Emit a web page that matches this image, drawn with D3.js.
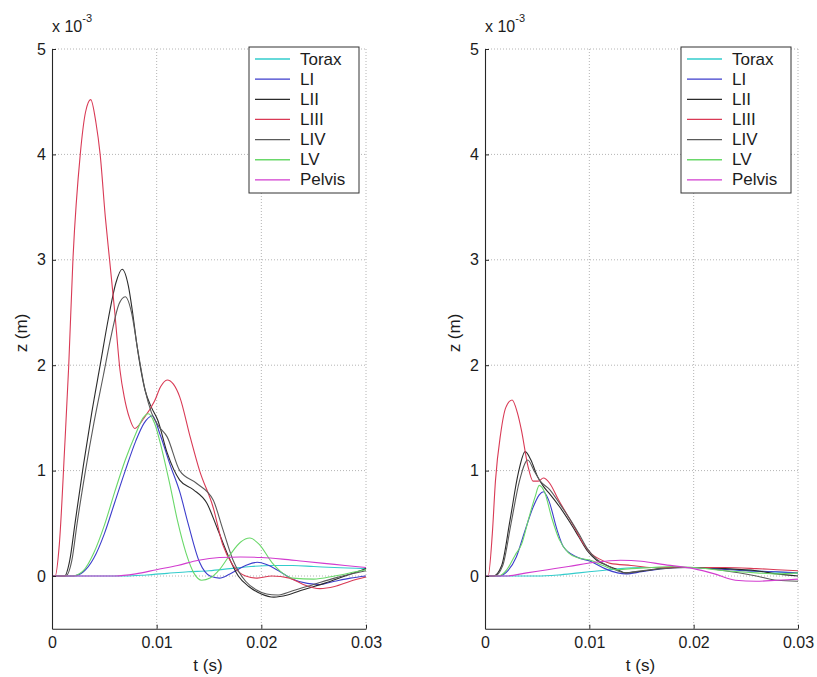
<!DOCTYPE html>
<html>
<head>
<meta charset="utf-8">
<script src="https://cdn.jsdelivr.net/npm/d3@7"></script>
<style>
  body { margin: 0; background: #ffffff; }
  svg { display: block; }
  text { font-family: "Liberation Sans", Arial, Helvetica, sans-serif; fill: #1c1c1c; }
</style>
</head>
<body>
<svg id="chart" width="817" height="677"></svg>
<script>
// Vertical displacement z (x 10^-3 m) against time t (ms), per body segment.
const seriesNames = ["Torax", "LI", "LII", "LIII", "LIV", "LV", "Pelvis"];
const seriesColors = ["#33cccc", "#3d3dcc", "#2b2b2b", "#d93a55", "#5a5a5a", "#6ad86a", "#d23ccf"];

const yTicks = [0, 1, 2, 3, 4, 5];
const xTicks = [0, 0.01, 0.02, 0.03];

// Left panel: [t (ms), z (x 10^-3 m)]
const leftTorax = [[0,0],[7,0],[9,0.01],[11,0.025],[13,0.04],[15,0.05],[17,0.07],[19,0.09],[21,0.1],[23,0.1],[25,0.09],[27,0.08],[30,0.07]];
const leftLI = [[0,0],[2,0],[3,0.04],[4,0.17],[5,0.4],[6,0.7],[7,1.0],[8,1.28],[8.8,1.45],[9.6,1.52],[10.3,1.35],[11.3,1.05],[12.2,0.8],[13,0.5],[14.1,0.13],[15.1,0],[16,-0.02],[17,0.02],[18.5,0.1],[19.6,0.13],[20.5,0.11],[21.8,0.04],[23,-0.03],[24.4,-0.07],[25.6,-0.08],[27,-0.05],[28.5,-0.02],[30,0]];
const leftLII = [[0,0],[1.2,0],[1.7,0.15],[2.2,0.5],[3.0,1.05],[3.8,1.55],[4.6,2.0],[5.4,2.45],[6.1,2.78],[6.7,2.91],[7.3,2.75],[7.7,2.5],[8.1,2.2],[8.9,1.76],[9.5,1.6],[10.1,1.48],[11,1.17],[12.2,0.91],[13.5,0.82],[14.8,0.69],[15.8,0.45],[16.8,0.2],[17.8,0.0],[18.8,-0.1],[20,-0.17],[21.2,-0.2],[22.5,-0.18],[24,-0.13],[26,-0.07],[28,0.0],[30,0.07]];
const leftLIII = [[0,0],[0.3,0],[0.7,0.3],[1.2,1.2],[1.6,2.0],[2.0,3.0],[2.7,4.0],[3.2,4.4],[3.7,4.52],[4.2,4.3],[4.6,4.0],[5.1,3.4],[5.5,3.0],[6.0,2.5],[6.5,1.95],[6.9,1.7],[7.4,1.5],[7.9,1.4],[8.8,1.5],[9.8,1.66],[10.4,1.8],[11.0,1.86],[11.6,1.82],[12.2,1.7],[13.2,1.32],[14.1,1.0],[15.4,0.65],[16.3,0.3],[17.3,0.1],[18.5,0.0],[19.6,-0.02],[21,0.0],[22.7,-0.02],[24,-0.08],[25.6,-0.12],[27,-0.1],[28.5,-0.05],[30,-0.01]];
const leftLIV = [[0,0],[1.3,0],[1.9,0.15],[2.4,0.5],[3.2,1.0],[4.0,1.45],[4.9,1.9],[5.7,2.3],[6.4,2.58],[7.0,2.65],[7.6,2.5],[8.2,2.14],[8.9,1.76],[9.5,1.55],[10.2,1.42],[11,1.32],[12.2,1.0],[13.8,0.88],[15.4,0.72],[16.3,0.45],[17.3,0.15],[18.5,-0.05],[19.5,-0.13],[20.5,-0.17],[21.5,-0.18],[23,-0.14],[25,-0.08],[27,-0.02],[30,0.05]];
const leftLV = [[0,0],[2,0],[3,0.05],[4,0.22],[5,0.48],[6,0.8],[7,1.1],[8,1.35],[8.7,1.5],[9.2,1.54],[9.8,1.45],[10.5,1.2],[11.3,0.85],[12,0.52],[12.8,0.22],[13.6,0.02],[14.3,-0.04],[15.1,-0.02],[16,0.06],[17,0.2],[18,0.32],[18.9,0.36],[19.8,0.3],[21,0.13],[22,0.03],[23,-0.02],[25,-0.03],[27,0.0],[29,0.04],[30,0.06]];
const leftPelvis = [[0,0],[6,0],[8,0.02],[10,0.06],[12,0.1],[14,0.15],[16,0.175],[18,0.18],[20,0.175],[22,0.16],[24,0.14],[26,0.12],[28,0.1],[30,0.08]];

// Right panel: [t (ms), z (x 10^-3 m)]
const rightTorax = [[0,0],[5,0],[7,0.01],[9,0.03],[11,0.05],[13,0.07],[15,0.08],[18,0.08],[21,0.08],[24,0.06],[27,0.04],[30,0.03]];
const rightLI = [[0,0],[1.4,0],[2.2,0.05],[3,0.18],[3.8,0.42],[4.6,0.65],[5.2,0.77],[5.6,0.8],[6.1,0.72],[6.9,0.44],[7.5,0.28],[8.8,0.18],[10.1,0.14],[11.5,0.07],[12.7,0.03],[13.5,0.02],[15,0.04],[17,0.07],[19,0.08],[22,0.07],[25,0.05],[28,0.04],[30,0.03]];
const rightLII = [[0,0],[0.8,0],[1.6,0.1],[2.4,0.53],[3.2,0.98],[3.85,1.18],[4.4,1.1],[5,0.95],[5.6,0.85],[6.2,0.78],[7.2,0.65],[8.2,0.5],[9,0.37],[9.8,0.24],[10.7,0.15],[11.7,0.1],[12.7,0.06],[13.5,0.03],[14.5,0.04],[16,0.06],[18,0.08],[20,0.08],[23,0.07],[26,0.05],[28,0.02],[30,0.0]];
const rightLIII = [[0,0],[0.3,0],[0.7,0.4],[1.0,0.9],[1.5,1.35],[2.0,1.6],[2.6,1.67],[3.1,1.55],[3.5,1.38],[4.1,1.05],[4.6,0.9],[5.1,0.9],[5.6,0.93],[6.2,0.88],[7,0.73],[8,0.56],[8.8,0.42],[9.4,0.31],[10.2,0.21],[11,0.16],[12,0.12],[14,0.1],[16,0.08],[18,0.08],[20,0.08],[23,0.08],[26,0.07],[28,0.06],[30,0.05]];
const rightLIV = [[0,0],[0.9,0],[1.7,0.1],[2.5,0.5],[3.3,0.9],[4.1,1.1],[4.7,1.0],[5.3,0.9],[6.2,0.82],[7.2,0.68],[8.2,0.53],[9,0.4],[9.8,0.26],[10.7,0.16],[11.7,0.1],[12.7,0.05],[13.5,0.03],[15,0.05],[17,0.07],[20,0.08],[23,0.05],[26,0.0],[28,-0.04],[30,-0.05]];
const rightLV = [[0,0],[1.3,0],[2.1,0.06],[2.9,0.2],[3.5,0.3],[4.2,0.55],[4.8,0.75],[5.2,0.86],[5.7,0.8],[6.4,0.55],[7.1,0.35],[8,0.22],[9,0.17],[10.1,0.15],[11.3,0.1],[12.5,0.06],[14,0.07],[16,0.08],[18,0.09],[20,0.08],[23,0.05],[26,0.03],[28,0.02],[30,0.03]];
const rightPelvis = [[0,0],[2,0],[4,0.03],[6,0.06],[8,0.09],[10.5,0.13],[13,0.15],[15,0.14],[17,0.11],[20,0.07],[22,0.02],[24,-0.04],[26,-0.05],[28,-0.04],[30,-0.03]];

const panels = [
  { left: 52, right: 366, series: [leftTorax, leftLI, leftLII, leftLIII, leftLIV, leftLV, leftPelvis] },
  { left: 485, right: 798, series: [rightTorax, rightLI, rightLII, rightLIII, rightLIV, rightLV, rightPelvis] }
];

const svg = d3.select("#chart");
const yTop = 49, yBottom = 628.7;

panels.forEach(p => {
  const g = svg.append("g");
  const x = d3.scaleLinear().domain([0, 0.03]).range([p.left, p.right]);
  const y = d3.scaleLinear().domain([-0.5, 5]).range([yBottom, yTop]);

  // dotted grid
  const grid = g.append("g").attr("stroke", "#b4b4b4").attr("stroke-width", 1).attr("stroke-dasharray", "1,2");
  yTicks.forEach(v => grid.append("line")
    .attr("x1", p.left).attr("x2", p.right).attr("y1", y(v)).attr("y2", y(v)));
  xTicks.filter(v => v > 0).forEach(v => grid.append("line")
    .attr("x1", x(v)).attr("x2", x(v)).attr("y1", yTop).attr("y2", yBottom));

  // curves
  const line = d3.line()
    .x(d => x(d[0] / 1000))
    .y(d => y(d[1]))
    .curve(d3.curveMonotoneX);
  p.series.forEach((data, i) => {
    g.append("path").datum(data)
      .attr("d", line)
      .attr("fill", "none")
      .attr("stroke", seriesColors[i])
      .attr("stroke-width", 1.1);
  });

  // axes (ticks point inward)
  const yAxis = g.append("g").attr("transform", `translate(${p.left},0)`)
    .call(d3.axisLeft(y).tickValues(yTicks).tickFormat(d3.format("d")).tickSizeInner(-4).tickSizeOuter(0).tickPadding(6));
  const xAxis = g.append("g").attr("transform", `translate(0,${yBottom})`)
    .call(d3.axisBottom(x).tickValues(xTicks).tickFormat(d => d === 0 ? "0" : d3.format(".2f")(d)).tickSizeInner(-4).tickSizeOuter(0).tickPadding(8));
  [yAxis, xAxis].forEach(a => {
    a.select(".domain").attr("stroke", "#262626").attr("stroke-width", 1.1);
    a.selectAll(".tick line").attr("stroke", "#262626");
    a.selectAll(".tick text").attr("font-size", 16).attr("fill", "#1c1c1c")
      .attr("font-family", '"Liberation Sans", Arial, sans-serif');
  });

  // exponent multiplier
  const mult = g.append("text").attr("x", p.left).attr("y", 32).attr("font-size", 16);
  mult.append("tspan").text("x 10");
  mult.append("tspan").attr("dy", -10).attr("font-size", 11).text("-3");

  // axis labels
  g.append("text")
    .attr("transform", `translate(${p.left - 31},${333}) rotate(-90)`)
    .attr("text-anchor", "middle").attr("dominant-baseline", "central")
    .attr("font-size", 17).text("z (m)");
  g.append("text")
    .attr("x", (p.left + p.right) / 2 - 1).attr("y", 671)
    .attr("text-anchor", "middle").attr("font-size", 17).text("t (s)");

  // legend
  const lx = p.right - 117, ly = 47;
  const leg = g.append("g");
  leg.append("rect").attr("x", lx).attr("y", ly).attr("width", 110).attr("height", 146)
    .attr("fill", "#ffffff").attr("stroke", "#333333").attr("stroke-width", 1);
  seriesNames.forEach((name, i) => {
    const ry = ly + 12 + i * 20.15;
    leg.append("line").attr("x1", lx + 6).attr("x2", lx + 41).attr("y1", ry).attr("y2", ry)
      .style("stroke", seriesColors[i]).attr("stroke-width", 1.3);
    leg.append("text").attr("x", lx + 51).attr("y", ry).attr("dominant-baseline", "central")
      .attr("font-size", 17).text(name);
  });
});
</script>
</body>
</html>
